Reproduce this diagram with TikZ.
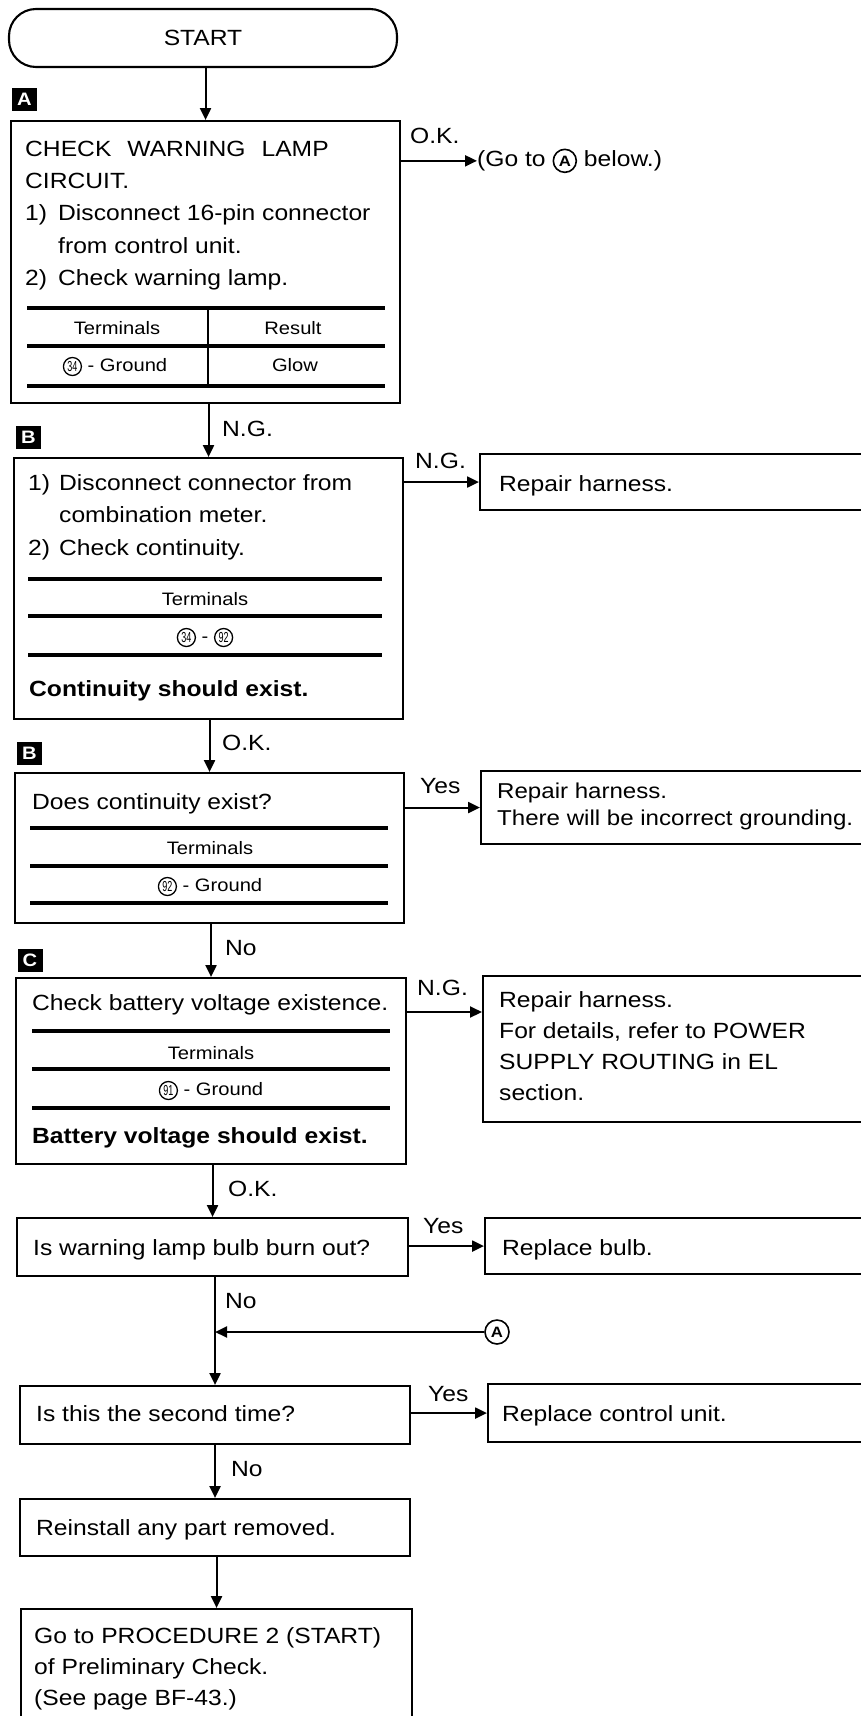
\documentclass[tikz,border=0pt]{standalone}
\usepackage{fontspec}
\setmainfont{Liberation Sans}[FakeStretch=1.12]
\usetikzlibrary{arrows.meta}

% circled terminal number, sitting on the text baseline
\newcommand\cnum[1]{\tikz[baseline=(cn.base)]\node[draw,circle,line width=1.3pt,inner sep=0pt,minimum size=18pt,anchor=center,font=\fontsize{14.5}{14.5}\selectfont\addfontfeature{FakeStretch=0.62}] (cn) {#1};}
% circled connector letter
\newcommand\cletter{\tikz[baseline=(cl.base)]\node[draw,circle,line width=1.6pt,inner sep=0pt,minimum size=23pt,anchor=center,font=\fontsize{15}{15}\bfseries\selectfont] (cl) {A};}

\begin{document}
\begin{tikzpicture}[x=1pt,y=-1pt,
  panel/.style={draw,line width=2.1pt,rectangle,anchor=north west,inner sep=0pt},
  txtblock/.style={inner sep=0pt,align=left,anchor=north west,font=\fontsize{22}{32.3}\selectfont},
  txtline/.style={inner sep=0pt,anchor=base west,font=\fontsize{22}{27}\selectfont},
  boldline/.style={txtline,font=\fontsize{22}{27}\bfseries\selectfont},
  cell/.style={inner sep=0pt,anchor=base,font=\fontsize{18}{20}\selectfont},
  lbl/.style={inner sep=0pt,anchor=base west,font=\fontsize{22}{24}\selectfont},
  tag/.style={fill=black,text=white,inner sep=0pt,minimum width=25pt,minimum height=23pt,font=\fontsize{18}{18}\bfseries\selectfont},
  trule/.style={line width=3.2pt},
  conn/.style={line width=2.1pt},
  arr/.style={conn,-{Triangle[length=12pt,width=11pt]}}]

\useasboundingbox (0,0) rectangle (861,1716);
\clip (0,0) rectangle (861,1716);

% ---------- start ----------
\node[draw,line width=2.1pt,rounded corners=27pt,minimum width=388pt,minimum height=58pt,inner sep=0pt,font=\fontsize{22}{24}\selectfont] (start) at (203,38) {START};

% ---------- step A ----------
\node[tag] (tagA) at (24.5,99) {A};
\node[panel,minimum width=389pt,minimum height=282pt] (boxA) at (10,120) {};
\node[txtblock] (txtA) at (25,133.4) {\strut CHECK\hspace{16pt}WARNING\hspace{16pt}LAMP\\CIRCUIT.\\\makebox[33pt][l]{1)}Disconnect 16-pin connector\\\hspace*{33pt}from control unit.\\\makebox[33pt][l]{2)}Check warning lamp.};
\draw[trule] (27,308) -- (385,308) (27,346) -- (385,346) (27,386) -- (385,386);
\draw[conn] (208,308) -- (208,386);
\node[cell] (a11) at (117,334.5) {Terminals};
\node[cell] (a12) at (293,334.5) {Result};
\node[cell] (a21) at (115,371.5) {\cnum{34} - Ground};
\node[cell] (a22) at (295,371.5) {Glow};
\node[lbl] (okA) at (410,143) {O.K.};
\node[inner sep=0pt,anchor=base west,font=\fontsize{22}{24}\selectfont] (goA) at (477,166) {(Go to \cletter\ below.)};

% ---------- step B, continuity to meter ----------
\node[lbl] (ngA) at (222,436) {N.G.};
\node[tag] (tagB1) at (28.5,437.5) {B};
\node[panel,minimum width=389pt,minimum height=261pt] (boxB1) at (13,457) {};
\node[txtblock,font=\fontsize{22}{32.5}\selectfont] (txtB1) at (28,467.2) {\strut\makebox[31pt][l]{1)}Disconnect connector from\\\hspace*{31pt}combination meter.\\\makebox[31pt][l]{2)}Check continuity.};
\draw[trule] (28,579) -- (382,579) (28,616) -- (382,616) (28,655) -- (382,655);
\node[cell] (b11) at (205,605.5) {Terminals};
\node[cell] (b21) at (205,642.5) {\cnum{34} - \cnum{92}};
\node[boldline] (b1note) at (29,696) {Continuity should exist.};
\node[lbl] (ngB1) at (415,468) {N.G.};
\node[panel,minimum width=450pt,minimum height=56pt] (rh1) at (479,453) {};
\node[txtline] (rh1t) at (499,491) {Repair harness.};

% ---------- step B, continuity to ground ----------
\node[lbl] (okB1) at (222,750) {O.K.};
\node[tag] (tagB2) at (29.5,753.5) {B};
\node[panel,minimum width=389pt,minimum height=150pt] (boxB2) at (14,772) {};
\node[txtline] (b2q) at (32,809) {Does continuity exist?};
\draw[trule] (30,828) -- (388,828) (30,866) -- (388,866) (30,903) -- (388,903);
\node[cell] (c11) at (210,854.5) {Terminals};
\node[cell] (c21) at (210,891.5) {\cnum{92} - Ground};
\node[lbl] (yesB2) at (420,793) {Yes};
\node[panel,minimum width=450pt,minimum height=73pt] (rh2) at (480,770) {};
\node[txtblock,font=\fontsize{21.5}{27}\selectfont] (rh2t) at (497,779.1) {\strut Repair harness.\\There will be incorrect grounding.};

% ---------- step C ----------
\node[lbl] (noB2) at (225,955) {No};
\node[tag] (tagC) at (30,960) {C};
\node[panel,minimum width=390pt,minimum height=186pt] (boxC) at (15,977) {};
\node[txtline] (cq) at (32,1010) {Check battery voltage existence.};
\draw[trule] (32,1031) -- (390,1031) (32,1069) -- (390,1069) (32,1108) -- (390,1108);
\node[cell] (d11) at (211,1059.5) {Terminals};
\node[cell] (d21) at (211,1095.5) {\cnum{91} - Ground};
\node[boldline] (cnote) at (32,1143) {Battery voltage should exist.};
\node[lbl] (ngC) at (417,995) {N.G.};
\node[panel,minimum width=450pt,minimum height=146pt] (rh3) at (482,975) {};
\node[txtblock,font=\fontsize{22}{31}\selectfont] (rh3t) at (499,985.3) {\strut Repair harness.\\For details, refer to POWER\\SUPPLY ROUTING in EL\\section.};

% ---------- bulb and repeat checks ----------
\node[lbl] (okC) at (228,1196) {O.K.};
\node[panel,minimum width=391pt,minimum height=58pt] (q1) at (16,1217) {};
\node[txtline] (q1t) at (33,1255) {Is warning lamp bulb burn out?};
\node[lbl] (yesQ1) at (423,1233) {Yes};
\node[panel,minimum width=450pt,minimum height=56pt] (bulb) at (484,1217) {};
\node[txtline] (bulbt) at (502,1255) {Replace bulb.};

\node[lbl] (noQ1) at (225,1308) {No};
\node[draw,circle,line width=1.6pt,inner sep=0pt,minimum size=24pt,font=\fontsize{15}{15}\bfseries\selectfont] (jA) at (497,1332) {A};

\node[panel,minimum width=390pt,minimum height=58pt] (q2) at (19,1385) {};
\node[txtline] (q2t) at (36,1421) {Is this the second time?};
\node[lbl] (yesQ2) at (428,1401) {Yes};
\node[panel,minimum width=450pt,minimum height=58pt] (cu) at (487,1383) {};
\node[txtline] (cut) at (502,1421) {Replace control unit.};

\node[lbl] (noQ2) at (231,1476) {No};
\node[panel,minimum width=390pt,minimum height=57pt] (rbox) at (19,1498) {};
\node[txtline] (rt) at (36,1535) {Reinstall any part removed.};

\node[panel,minimum width=391pt,minimum height=250pt] (gbox) at (20,1608) {};
\node[txtblock,font=\fontsize{22}{31}\selectfont] (gt) at (34,1621.3) {\strut Go to PROCEDURE 2 (START)\\of Preliminary Check.\\(See page BF-43.)};

% ---------- connectors ----------
\draw[arr] (boxA.north |- start.south) -- (boxA.north);
\draw[arr] (goA.west -| boxA.east) -- (goA.west);
\draw[arr] (boxB1.north |- boxA.south) -- (boxB1.north);
\draw[arr] (rh1.west -| boxB1.east) -- (rh1.west);
\draw[arr] (boxB2.north |- boxB1.south) -- (boxB2.north);
\draw[arr] (rh2.west -| boxB2.east) -- (rh2.west);
\draw[arr] (boxC.north |- boxB2.south) -- (boxC.north);
\draw[arr] ([yshift=-37pt]rh3.north west -| boxC.east) -- ([yshift=-37pt]rh3.north west);
\draw[arr] (q1.north |- boxC.south) -- (q1.north);
\draw[arr] (bulb.west -| q1.east) -- (bulb.west);
\draw[arr] (q2.north |- q1.south) -- (q2.north);
\draw[arr] (jA.west) -- (jA.west -| q2.north);
\draw[arr] (cu.west -| q2.east) -- (cu.west);
\draw[arr] (rbox.north |- q2.south) -- (rbox.north);
\draw[arr] (gbox.north |- rbox.south) -- (gbox.north);
\end{tikzpicture}
\end{document}
